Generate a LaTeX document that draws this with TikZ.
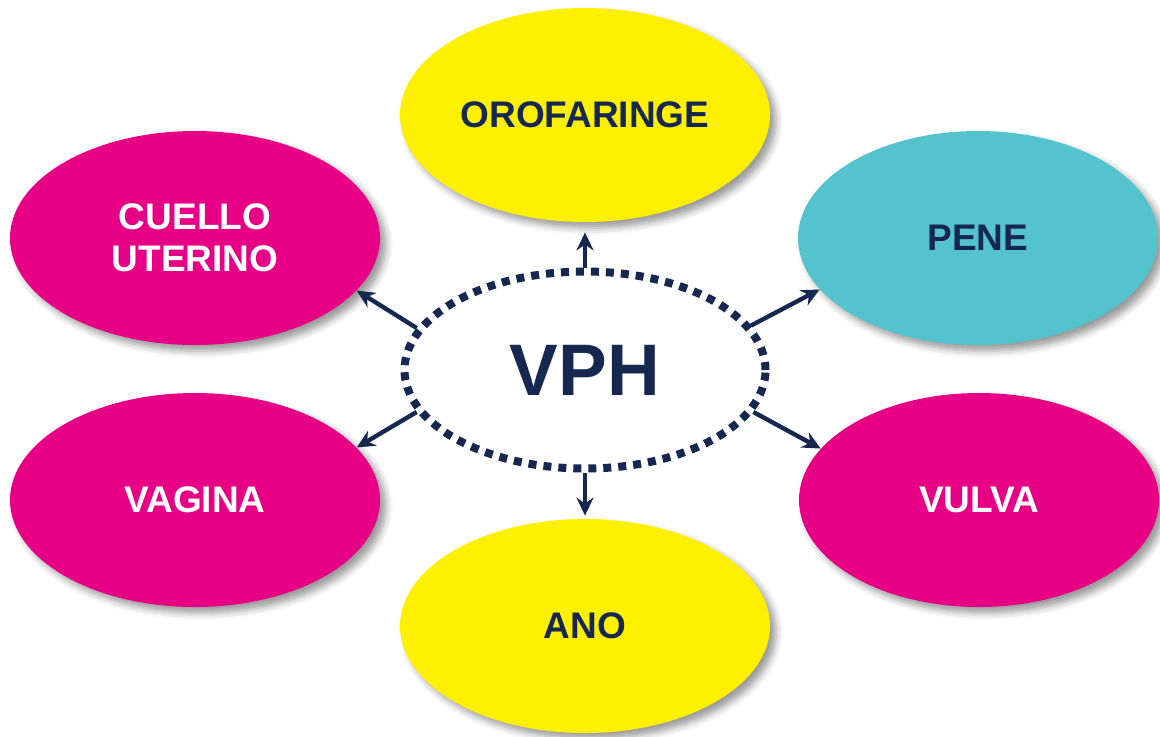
\documentclass[tikz,border=0pt]{standalone}
\usepackage{fontspec}
\setmainfont{Liberation Sans}
\usetikzlibrary{shapes.geometric, arrows.meta, positioning, shadows.blur}
\definecolor{navy}{RGB}{22,40,80}
\definecolor{fucsia}{RGB}{231,0,133}
\definecolor{amarillo}{RGB}{255,240,0}
\definecolor{turquesa}{RGB}{84,195,206}

\begin{document}
\begin{tikzpicture}[x=0.5pt, y=-0.5pt, font=\bfseries\fontsize{18.5}{21}\selectfont,
    zona/.style={ellipse, inner sep=0pt, minimum width=185pt, minimum height=107pt, align=center,
        blur shadow={shadow xshift=3pt, shadow yshift=-3pt, shadow blur radius=3.5pt, shadow opacity=40}},
    flecha/.style={-{Stealth[length=9pt,width=8.5pt]}, line width=2.2pt, draw=navy}]
    \useasboundingbox (0,0) rectangle (1160,736);

    \node[ellipse, draw=navy, line width=4pt, dash pattern=on 4pt off 3.5pt, text=navy,
        inner sep=0pt, minimum width=180.5pt, minimum height=98.5pt] (vph) at (585,370)
        {\fontsize{36.5}{42}\selectfont VPH};

    \node[zona, fill=amarillo, text=navy] (oro) at (585,115) {OROFARINGE};
    \node[zona, fill=fucsia, text=white] (cu) at (195,238) {CUELLO\\UTERINO};
    \node[zona, fill=turquesa, text=navy, minimum width=180pt] (pene) at (978,238) {PENE};
    \node[zona, fill=fucsia, text=white] (vag) at (195,500) {VAGINA};
    \node[zona, fill=fucsia, text=white, minimum width=180pt] (vul) at (979,500) {VULVA};
    \node[zona, fill=amarillo, text=navy] (ano) at (585,626) {ANO};

    \draw[flecha, shorten >=5pt] (vph.north) -- (oro.south);
    \draw[flecha] (vph.166) -- (cu.-18);
    \draw[flecha] (vph.15) -- (pene.198);
    \draw[flecha] (vph.194) -- (vag.18);
    \draw[flecha] (vph.-14) -- (vul.162);
    \draw[flecha, shorten >=1.5pt] (vph.south) -- (ano.north);
\end{tikzpicture}
\end{document}
